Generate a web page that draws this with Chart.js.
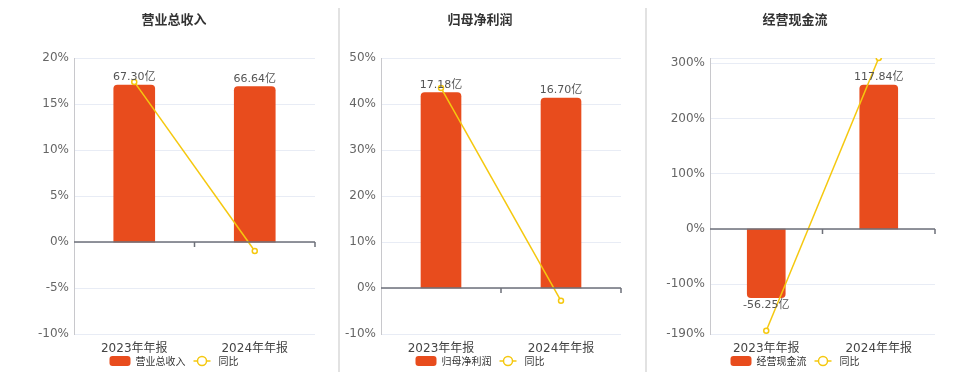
<!DOCTYPE html>
<html>
<head>
<meta charset="utf-8">
<script src="https://cdn.jsdelivr.net/npm/chart.js@4.4.0/dist/chart.umd.min.js"></script>
<style>
  body { margin: 0; background: #fff; }
  #wrap { position: relative; width: 960px; height: 372px; overflow: hidden; }
  canvas { position: absolute; top: 0; }
  .sep { position: absolute; top: 8px; width: 2px; height: 364px; background: #e2e2e2; }
</style>
</head>
<body>
<div id="wrap">
  <canvas id="c1" width="338" height="372" style="left:0"></canvas>
  <div class="sep" style="left:338px"></div>
  <canvas id="c2" width="305" height="372" style="left:341px"></canvas>
  <div class="sep" style="left:645px"></div>
  <canvas id="c3" width="313" height="372" style="left:647px"></canvas>
</div>
<script>
// categories
var categories = ['2023年年报', '2024年年报'];

// 营业总收入 (亿) and 同比 (%)
var revenue = [67.30, 66.64];
var revenueYoy = [17.4, -0.98];
var revenueTicks = [-10, -5, 0, 5, 10, 15, 20];

// 归母净利润
var profit = [17.18, 16.70];
var profitYoy = [43.5, -2.79];
var profitTicks = [-10, 0, 10, 20, 30, 40, 50];

// 经营现金流
var cashflow = [-56.25, 117.84];
var cashflowYoy = [-184, 309.5];
var cashflowTicks = [-190, -100, 0, 100, 200, 300, 309.5];
var cashflowTickLabels = ['-190%', '-100%', '0%', '100%', '200%', '300%', ''];

var BAR = '#e84c1d';
var LINE = '#f5c80f';
var FONT = '"DejaVu Sans", "Noto Sans CJK SC", sans-serif';
var CJK = '"Noto Sans CJK SC", sans-serif';

// title, legend, bar labels, zero line
var panelPlugin = {
  id: 'panel',
  afterDatasetsDraw(chart, args, opts) {
    var ctx = chart.ctx, a = chart.chartArea;
    var y0 = chart.scales.y.getPixelForValue(0);
    ctx.save();
    // zero line + small ticks
    ctx.strokeStyle = '#6e7079';
    ctx.lineWidth = 1.5;
    ctx.beginPath();
    ctx.moveTo(a.left, y0); ctx.lineTo(a.right, y0);
    var mid = (a.left + a.right) / 2;
    ctx.moveTo(mid, y0); ctx.lineTo(mid, y0 + 5);
    ctx.moveTo(a.right, y0); ctx.lineTo(a.right, y0 + 5);
    ctx.stroke();

    // bar value labels
    var meta = chart.getDatasetMeta(0);
    var data = chart.data.datasets[0].data;
    ctx.font = '11px ' + FONT;
    ctx.fillStyle = '#555';
    ctx.textAlign = 'center';
    meta.data.forEach(function (el, i) {
      var txt = data[i].toFixed(2) + '亿';
      if (data[i] >= 0) {
        ctx.textBaseline = 'bottom';
        ctx.fillText(txt, el.x, el.y - 2);
      } else {
        ctx.textBaseline = 'top';
        ctx.fillText(txt, el.x, el.y + 2);
      }
    });
    ctx.restore();
  },
  afterDraw(chart, args, opts) {
    var ctx = chart.ctx;
    ctx.save();
    // title
    ctx.font = 'bold 13px ' + CJK;
    ctx.fillStyle = '#333';
    ctx.textAlign = 'center';
    ctx.textBaseline = 'middle';
    ctx.fillText(opts.title, opts.cx, 19);

    // legend
    ctx.font = '10px ' + CJK;
    var t1 = ctx.measureText(opts.name).width;
    var t2 = ctx.measureText('同比').width;
    var total = 21 + 5 + t1 + 8 + 17 + 8 + t2;
    var x = opts.cx - total / 2, ly = 361;
    ctx.fillStyle = BAR;
    ctx.beginPath();
    ctx.roundRect(x, ly - 5, 21, 10, 3);
    ctx.fill();
    x += 26;
    ctx.fillStyle = '#333';
    ctx.textAlign = 'left';
    ctx.fillText(opts.name, x, ly);
    x += t1 + 8;
    ctx.strokeStyle = LINE;
    ctx.lineWidth = 1.5;
    ctx.beginPath();
    ctx.moveTo(x, ly); ctx.lineTo(x + 17, ly);
    ctx.stroke();
    ctx.beginPath();
    ctx.arc(x + 8.5, ly, 4.5, 0, Math.PI * 2);
    ctx.fillStyle = '#fff';
    ctx.fill();
    ctx.stroke();
    x += 25;
    ctx.fillStyle = '#333';
    ctx.fillText('同比', x, ly);
    ctx.restore();
  }
};

function makePanel(id, opt) {
  new Chart(document.getElementById(id), {
    type: 'bar',
    data: {
      labels: categories,
      datasets: [
        {
          type: 'bar',
          label: opt.name,
          data: opt.bars,
          yAxisID: 'y1',
          backgroundColor: BAR,
          borderRadius: 4,
          borderSkipped: 'start',
          barThickness: opt.barWidth,
          order: 2
        },
        {
          type: 'line',
          label: '同比',
          data: opt.yoy,
          yAxisID: 'y',
          borderColor: LINE,
          borderWidth: 1.5,
          pointRadius: 2.5,
          pointBorderWidth: 1.5,
          pointBackgroundColor: '#fff',
          pointBorderColor: LINE,
          order: 1
        }
      ]
    },
    options: {
      responsive: false,
      animation: false,
      layout: { padding: { top: 58, right: opt.padRight, bottom: 0, left: 0 } },
      plugins: {
        legend: { display: false },
        tooltip: { enabled: false },
        panel: { title: opt.name, name: opt.name, cx: opt.cx }
      },
      scales: {
        x: {
          grid: { display: false },
          border: { display: false },
          ticks: { color: '#444', font: { size: 12, family: FONT }, padding: 0 },
          afterFit: function (s) { s.height = 38; }
        },
        y: {
          min: opt.ticks[0],
          max: opt.ticks[opt.ticks.length - 1],
          afterBuildTicks: function (s) { s.ticks = opt.ticks.map(function (v) { return { value: v }; }); },
          afterFit: function (s) { s.width = opt.axisWidth; },
          grid: { color: '#e8ecf5', drawTicks: false },
          border: { color: '#c8c8cc' },
          ticks: {
            color: '#666',
            font: { size: 12, family: FONT },
            padding: 5,
            callback: function (v, i) { return opt.labels ? opt.labels[i] : v + '%'; }
          }
        },
        y1: {
          display: false,
          min: opt.barMin,
          max: opt.barMax
        }
      }
    },
    plugins: [panelPlugin]
  });
}

makePanel('c1', {
  name: '营业总收入', bars: revenue, yoy: revenueYoy, ticks: revenueTicks,
  barMin: -39.4, barMax: 78.9, axisWidth: 74, padRight: 23, cx: 174, barWidth: 41
});
makePanel('c2', {
  name: '归母净利润', bars: profit, yoy: profitYoy, ticks: profitTicks,
  barMin: -4.05, barMax: 20.23, axisWidth: 40, padRight: 25, cx: 139, barWidth: 40
});
makePanel('c3', {
  name: '经营现金流', bars: cashflow, yoy: cashflowYoy, ticks: cashflowTicks, labels: cashflowTickLabels,
  barMin: -85.9, barMax: 139.9, axisWidth: 63, padRight: 25, cx: 148, barWidth: 38
});
</script>
</body>
</html>
